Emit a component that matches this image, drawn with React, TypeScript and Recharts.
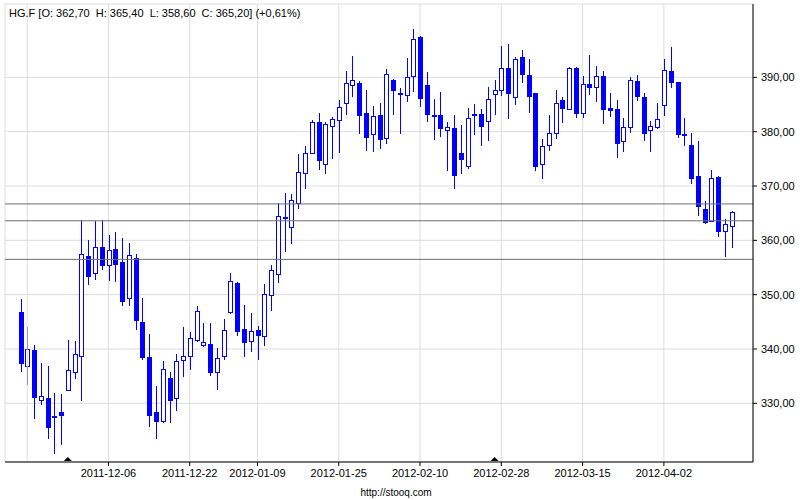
import React from "react";
import { Bar, CartesianGrid, ComposedChart, ReferenceDot, ReferenceLine, XAxis, YAxis } from "recharts";

// HG.F daily candles, 2011-11-16 .. 2012-04-17
const dates = [
  "2011-11-16", "2011-11-17", "2011-11-18", "2011-11-21", "2011-11-22", "2011-11-23", "2011-11-25", "2011-11-28",
  "2011-11-29", "2011-11-30", "2011-12-01", "2011-12-02", "2011-12-05", "2011-12-06", "2011-12-07", "2011-12-08",
  "2011-12-09", "2011-12-12", "2011-12-13", "2011-12-14", "2011-12-15", "2011-12-16", "2011-12-19", "2011-12-20",
  "2011-12-21", "2011-12-22", "2011-12-23", "2011-12-27", "2011-12-28", "2011-12-29", "2011-12-30", "2012-01-03",
  "2012-01-04", "2012-01-05", "2012-01-06", "2012-01-09", "2012-01-10", "2012-01-11", "2012-01-12", "2012-01-13",
  "2012-01-16", "2012-01-17", "2012-01-18", "2012-01-19", "2012-01-20", "2012-01-23", "2012-01-24", "2012-01-25",
  "2012-01-26", "2012-01-27", "2012-01-30", "2012-01-31", "2012-02-01", "2012-02-02", "2012-02-03", "2012-02-06",
  "2012-02-07", "2012-02-08", "2012-02-09", "2012-02-10", "2012-02-13", "2012-02-14", "2012-02-15", "2012-02-16",
  "2012-02-17", "2012-02-20", "2012-02-21", "2012-02-22", "2012-02-23", "2012-02-24", "2012-02-27", "2012-02-28",
  "2012-02-29", "2012-03-01", "2012-03-02", "2012-03-05", "2012-03-06", "2012-03-07", "2012-03-08", "2012-03-09",
  "2012-03-12", "2012-03-13", "2012-03-14", "2012-03-15", "2012-03-16", "2012-03-19", "2012-03-20", "2012-03-21",
  "2012-03-22", "2012-03-23", "2012-03-26", "2012-03-27", "2012-03-28", "2012-03-29", "2012-03-30", "2012-04-02",
  "2012-04-03", "2012-04-04", "2012-04-05", "2012-04-09", "2012-04-10", "2012-04-11", "2012-04-12", "2012-04-13",
  "2012-04-16", "2012-04-17",
];

const opens = [
  346.8, 336.8, 339.8, 330.7, 331.0, 327.7, 328.4, 332.5, 335.8, 338.8, 357.2, 354.0, 358.8, 355.4, 358.4, 356.1,
  349.3, 356.7, 345.0, 338.5, 328.4, 326.8, 334.6, 330.9, 337.9, 338.8, 341.6, 340.7, 340.9, 335.7, 338.7, 346.8,
  352.2, 343.7, 341.4, 343.5, 342.3, 349.9, 353.8, 364.3, 362.5, 366.8, 372.4, 376.0, 381.7, 374.1, 381.1, 382.2,
  385.2, 388.5, 388.9, 383.5, 379.5, 383.0, 378.9, 389.6, 387.2, 386.7, 390.2, 397.5, 388.5, 383.0, 383.1, 380.4,
  380.7, 376.0, 373.6, 383.0, 383.3, 381.9, 386.9, 387.6, 391.7, 386.3, 393.7, 390.4, 387.1, 374.0, 377.6, 379.8,
  385.9, 384.2, 391.7, 383.5, 388.8, 388.2, 390.2, 384.3, 384.1, 378.2, 380.8, 389.3, 386.3, 380.4, 380.8, 385.0,
  391.1, 389.1, 379.3, 377.6, 371.9, 365.8, 363.6, 371.7, 361.8, 362.7,
];

const highs = [
  349.2, 344.1, 340.8, 337.4, 336.8, 331.9, 331.7, 341.7, 341.5, 363.8, 360.0, 363.5, 363.7, 360.9, 361.6, 360.5,
  359.6, 357.4, 349.4, 342.8, 333.1, 337.8, 335.8, 339.1, 344.0, 343.2, 348.0, 344.8, 344.8, 340.2, 345.5, 354.0,
  352.4, 348.1, 346.7, 344.3, 351.9, 355.4, 366.9, 368.8, 368.6, 375.8, 377.3, 382.1, 383.4, 381.7, 382.7, 385.8,
  391.2, 393.9, 389.3, 387.6, 384.8, 385.2, 391.5, 389.7, 388.0, 393.6, 398.9, 397.6, 390.9, 386.0, 387.3, 381.7,
  383.0, 381.2, 384.4, 385.1, 384.1, 388.2, 389.6, 395.8, 396.2, 393.8, 395.1, 393.4, 387.2, 378.6, 383.0, 387.7,
  386.3, 391.9, 391.9, 390.2, 394.2, 392.1, 391.1, 387.1, 385.8, 382.5, 390.0, 390.4, 387.1, 381.9, 385.2, 393.4,
  395.6, 389.2, 382.6, 379.8, 378.2, 367.3, 373.0, 371.9, 364.0, 365.4,
];

const lows = [
  335.8, 333.3, 327.1, 329.6, 323.4, 320.7, 322.4, 332.4, 334.5, 330.5, 351.8, 352.7, 354.5, 352.6, 352.3, 348.0,
  348.0, 343.5, 338.0, 325.7, 323.4, 326.3, 326.3, 328.6, 334.9, 336.2, 341.3, 340.3, 335.1, 332.5, 337.9, 346.4,
  342.3, 338.6, 339.5, 337.9, 340.5, 347.0, 352.2, 357.8, 359.4, 365.7, 369.4, 375.9, 372.9, 372.2, 375.0, 376.1,
  383.0, 386.4, 379.6, 376.4, 376.3, 376.9, 377.8, 383.0, 379.5, 385.5, 387.3, 384.6, 381.8, 378.5, 379.0, 372.7,
  369.4, 372.3, 373.1, 379.4, 377.3, 378.3, 383.1, 386.6, 382.3, 384.9, 389.0, 383.5, 372.8, 371.2, 376.4, 378.7,
  381.6, 384.1, 382.5, 382.5, 386.7, 385.5, 381.4, 382.7, 375.2, 376.3, 379.7, 385.6, 378.3, 376.3, 380.5, 382.9,
  388.1, 378.9, 377.4, 370.4, 364.5, 363.0, 363.5, 360.6, 356.9, 358.6,
];

const closes = [
  337.4, 340.0, 331.2, 331.3, 325.7, 327.4, 327.9, 336.1, 339.0, 357.5, 353.5, 358.8, 355.4, 358.2, 355.6, 348.8,
  357.3, 345.4, 338.6, 327.9, 326.8, 336.3, 330.7, 337.8, 338.7, 342.1, 347.0, 341.3, 335.7, 338.4, 343.5, 352.5,
  343.4, 341.2, 343.3, 342.5, 350.1, 354.5, 364.5, 364.1, 367.4, 372.6, 376.1, 381.7, 374.7, 381.5, 382.4, 384.6,
  388.9, 389.6, 383.0, 379.1, 382.8, 378.7, 390.6, 387.7, 386.9, 390.0, 397.0, 386.2, 383.3, 382.8, 380.7, 380.9,
  372.0, 374.9, 382.6, 383.3, 381.0, 386.1, 387.6, 391.7, 387.2, 393.3, 390.6, 386.6, 373.6, 377.4, 379.8, 385.2,
  384.4, 391.7, 383.5, 388.7, 388.3, 390.2, 384.2, 383.9, 377.9, 380.8, 389.6, 386.5, 379.8, 381.0, 382.4, 391.3,
  389.1, 379.5, 379.6, 371.4, 366.4, 363.4, 371.5, 361.8, 363.0, 365.2,
];

const labelDates = [
  "2011-12-06", "2011-12-22", "2012-01-09", "2012-01-25", "2012-02-10", "2012-02-28", "2012-03-15", "2012-04-02",
];
const extraGridDates = ["2011-11-17"];
const markerDates = ["2011-11-28", "2012-02-27"];
const levels = [366.7, 363.6, 356.5];
const priceTicks = [330, 340, 350, 360, 370, 380, 390];
const yDomain = [319.2, 403.5];
const title = "HG.F [O: 362,70  H: 365,40  L: 358,60  C: 365,20] (+0,61%)";

const rows = dates.map((date, i) => ({
  date,
  open: opens[i],
  high: highs[i],
  low: lows[i],
  close: closes[i],
  range: [lows[i], highs[i]],
}));

const BLUE = "#0000ff";
const FONT = "'Liberation Sans', Arial, sans-serif";

function Candle(props: any) {
  const { x, y, width, height, payload } = props;
  const { open, high, low, close } = payload;
  const cx = Math.round(x + width / 2);
  const k = height / (high - low);
  const top = Math.round(y + (high - Math.max(open, close)) * k);
  const bottom = Math.round(y + (high - Math.min(open, close)) * k);
  const up = close >= open;
  return (
    <g>
      <line x1={cx + 0.5} x2={cx + 0.5} y1={Math.round(y)} y2={Math.round(y + height)} stroke={BLUE} strokeWidth={1} />
      <rect
        x={cx - 1.5}
        y={top + 0.5}
        width={4}
        height={Math.max(1, bottom - top)}
        fill={up ? "#ffffff" : BLUE}
        stroke={BLUE}
        strokeWidth={1}
      />
    </g>
  );
}

function Marker(props: any) {
  const { cx, cy } = props;
  return <polygon points={`${cx - 4},${cy - 1} ${cx + 4},${cy - 1} ${cx},${cy - 5}`} fill="#000" />;
}

const fmtPrice = (v: number) => v.toFixed(2).replace(".", ",");

export default function App() {
  return (
    <div style={{ position: "absolute", left: 0, top: 0, width: 800, height: 500, background: "#fff", fontFamily: FONT }}>
      <ComposedChart width={800} height={500} data={rows} margin={{ top: 4, right: 0, bottom: 0, left: 5 }}>
        <CartesianGrid stroke="#dcdcdc" strokeWidth={1} />
        <XAxis
          dataKey="date"
          type="category"
          ticks={labelDates}
          interval={0}
          padding={{ left: 12, right: 18 }}
          height={38}
          tickSize={4}
          tickMargin={3}
          axisLine={{ stroke: "#000" }}
          tickLine={{ stroke: "#000" }}
          tick={{ fill: "#000", fontSize: 11, fontFamily: FONT }}
        />
        <XAxis xAxisId="frame" orientation="top" height={0} tick={false} tickLine={false} axisLine={{ stroke: "#000" }} />
        <YAxis
          orientation="right"
          domain={yDomain}
          allowDataOverflow
          ticks={priceTicks}
          tickFormatter={fmtPrice}
          width={47}
          tickSize={4}
          tickMargin={4}
          axisLine={{ stroke: "#000" }}
          tickLine={{ stroke: "#000" }}
          tick={{ fill: "#000", fontSize: 11, fontFamily: FONT }}
        />
        <YAxis yAxisId="frame" orientation="left" width={0} tick={false} tickLine={false} axisLine={{ stroke: "#000" }} />
        {extraGridDates.map((d) => (
          <ReferenceLine key={d} x={d} stroke="#dcdcdc" />
        ))}
        <Bar dataKey="range" barSize={5} shape={Candle} isAnimationActive={false} />
        {levels.map((v) => (
          <ReferenceLine key={v} y={v} stroke="#6e6e6e" strokeWidth={1} />
        ))}
        {markerDates.map((d) => (
          <ReferenceDot key={d} x={d} y={yDomain[0]} ifOverflow="visible" shape={Marker} />
        ))}
      </ComposedChart>
      <div style={{ position: "absolute", left: 9, top: 7, fontSize: 11, lineHeight: "13px", color: "#000", whiteSpace: "pre" }}>
        {title}
      </div>
      <div style={{ position: "absolute", left: 0, width: 792, top: 486, textAlign: "center", fontSize: 10, lineHeight: "13px", color: "#000" }}>
        http://stooq.com
      </div>
    </div>
  );
}
